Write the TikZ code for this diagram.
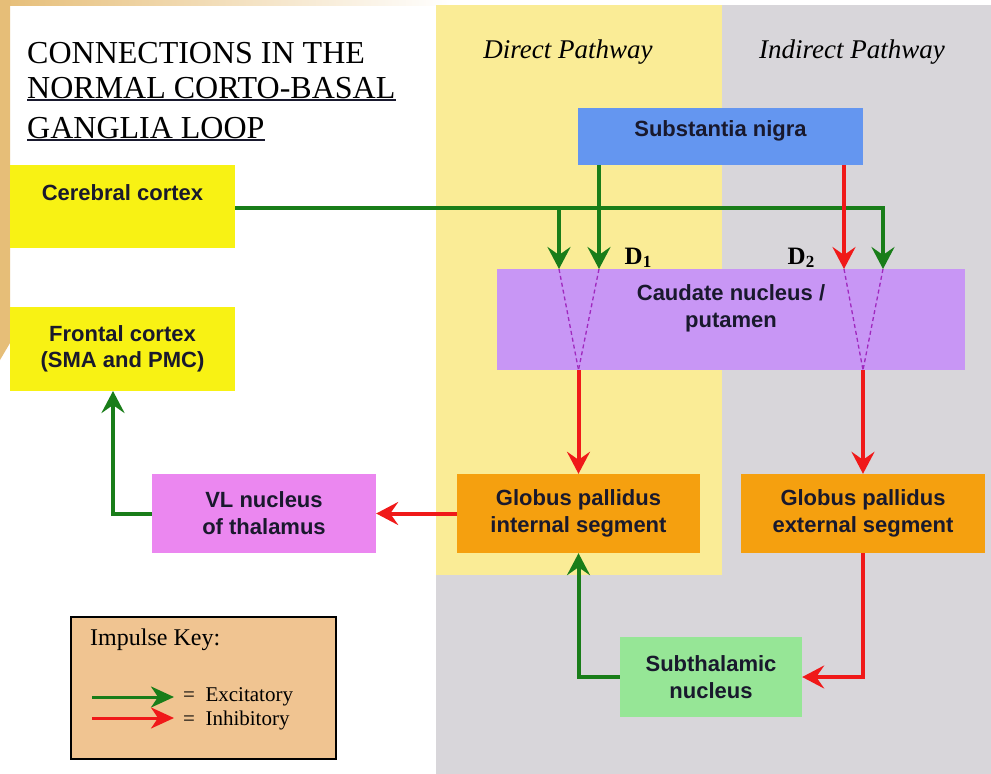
\documentclass[tikz,border=0pt]{standalone}
\usepackage{fontspec}
\setmainfont{Liberation Serif}
\newfontfamily\arialf{Liberation Sans}
\usetikzlibrary{arrows.meta,calc}
\definecolor{decotan}{RGB}{230,190,120}
\definecolor{colyel}{RGB}{250,236,150}
\definecolor{colgray}{RGB}{216,214,218}
\definecolor{cyel}{RGB}{248,242,20}
\definecolor{snblue}{RGB}{100,150,240}
\definecolor{caudp}{RGB}{200,150,245}
\definecolor{gporange}{RGB}{245,160,15}
\definecolor{vlpink}{RGB}{235,135,240}
\definecolor{stngreen}{RGB}{150,230,150}
\definecolor{keytan}{RGB}{240,196,145}
\definecolor{excgreen}{RGB}{25,125,25}
\definecolor{inhred}{RGB}{240,25,25}
\definecolor{dotmag}{RGB}{160,40,190}
\definecolor{txtc}{RGB}{25,25,45}
\begin{document}
\begin{tikzpicture}[x=1pt,y=-1pt,
  box/.style={rectangle, inner sep=0pt, align=center, text=txtc,
    font=\arialf\bfseries\fontsize{22}{27}\selectfont},
  exc/.style={draw=excgreen, line width=4pt,
    -{Stealth[length=22pt,width=23pt,inset=8pt]}},
  inh/.style={draw=inhred, line width=4pt,
    -{Stealth[length=22pt,width=23pt,inset=8pt]}},
  keyexc/.style={draw=excgreen, line width=3pt,
    -{Stealth[length=23pt,width=21pt,inset=7pt]}},
  keyinh/.style={draw=inhred, line width=3pt,
    -{Stealth[length=23pt,width=21pt,inset=7pt]}},
  dotln/.style={draw=dotmag, line width=1.3pt, dash pattern=on 4pt off 3pt},
  title/.style={anchor=base west, inner sep=0pt, font=\fontsize{32}{32}\selectfont},
  ital/.style={font=\itshape\fontsize{27}{27}\selectfont, inner sep=0pt},
  dlab/.style={font=\bfseries\fontsize{25}{25}\selectfont, inner sep=0pt},
  keytext/.style={anchor=west, inner sep=0pt, font=\fontsize{21}{21}\selectfont}
]
\useasboundingbox (0,0) rectangle (991,774);
\fill[white] (0,0) rectangle (991,774);
% decoration top-left
\shade[left color=decotan, right color=white] (0,0) rectangle (450,5);
\fill[decotan] (0,0) -- (10,0) -- (10,343) -- (0,360) -- cycle;
% pathway columns
\fill[colgray] (436,5) rectangle (991,774);
\fill[colyel] (436,5) rectangle (722,575);
\node[ital] (dp) at (568,52) {Direct Pathway};
\node[ital] (ip) at (852,52) {Indirect Pathway};
% title
\node[title] (t1) at (27,63) {CONNECTIONS IN THE};
\node[title] (t2) at (27,98) {NORMAL CORTO-BASAL};
\node[title] (t3) at (27,138) {GANGLIA LOOP};
\draw[line width=1.8pt, txtc] ($(t2.base west)+(0,2)$) -- ($(t2.base east)+(0,2)$);
\draw[line width=1.8pt, txtc] ($(t3.base west)+(0,2)$) -- ($(t3.base east)+(0,2)$);
% boxes
\node[box, fill=cyel, minimum width=225pt, minimum height=83pt] (cc) at (122.5,206.5) {Cerebral cortex\\\mbox{}};
\node[box, fill=cyel, minimum width=225pt, minimum height=84pt, font=\arialf\bfseries\fontsize{22}{26}\selectfont] (fc) at (122.5,349) {Frontal cortex\\(SMA and PMC)};
\node[box, fill=snblue, minimum width=285pt, minimum height=57pt, text height=16pt, text depth=16pt] (sn) at (720.5,136.5) {Substantia nigra};
\node[box, fill=caudp, minimum width=468pt, minimum height=101pt] (cau) at (731,319.5) {Caudate nucleus /\\putamen\\\mbox{}};
\node[box, fill=gporange, minimum width=243pt, minimum height=79pt] (gpi) at (578.5,513.5) {Globus pallidus\\internal segment};
\node[box, fill=gporange, minimum width=244pt, minimum height=79pt] (gpe) at (863,513.5) {Globus pallidus\\external segment};
\node[box, fill=vlpink, minimum width=224pt, minimum height=79pt] (vl) at (264,513.5) {VL nucleus\\of thalamus};
\node[box, fill=stngreen, minimum width=182pt, minimum height=80pt] (stn) at (711,677) {Subthalamic\\nucleus};
% D labels
\node[dlab] (d1) at (638,258) {D\raisebox{-3pt}{\fontsize{17}{17}\selectfont 1}};
\node[dlab] (d2) at (801,258) {D\raisebox{-3pt}{\fontsize{17}{17}\selectfont 2}};
% entry points on caudate
\coordinate (d1a) at (559,269);
\coordinate (d1b) at (599,269);
\coordinate (d2a) at (844,269);
\coordinate (d2b) at (883,269);
\coordinate (p1) at (578.5,370);
\coordinate (p2) at (863,370);
\coordinate (fcs) at (113,391);
% connectors
\draw[exc] (cc.east |- 0,208) -| (d2b);
\draw[exc] (d1a |- 0,208) -- (d1a);
\draw[exc] (sn.south -| d1b) -- (d1b);
\draw[inh] (sn.south -| d2a) -- (d2a);
\draw[dotln] (d1a) -- (p1);
\draw[dotln] (d1b) -- (p1);
\draw[dotln] (d2a) -- (p2);
\draw[dotln] (d2b) -- (p2);
\draw[inh] (p1) -- (gpi.north);
\draw[inh] (p2) -- (gpe.north);
\draw[inh] (gpi.west |- vl.east) -- (vl.east);
\draw[exc] (vl.west) -| (fcs);
\draw[exc] (stn.west) -| (gpi.south);
\draw[inh] (gpe.south) |- (stn.east);
% key
\node[draw=black, line width=1.5pt, fill=keytan, minimum width=265pt, minimum height=142pt, inner sep=0pt] (key) at (203.5,688) {};
\node[anchor=west, inner sep=0pt, font=\fontsize{24}{24}\selectfont] (kt) at (90,640) {Impulse Key:};
\coordinate (ke1) at (92,697);
\coordinate (ke2) at (174,697);
\coordinate (ki1) at (92,718);
\coordinate (ki2) at (174,718);
\draw[keyexc] (ke1) -- (ke2);
\draw[keyinh] (ki1) -- (ki2);
\node[keytext] (ket) at (183,697) {=\ \ Excitatory};
\node[keytext] (kit) at (183,720) {=\ \ Inhibitory};
\end{tikzpicture}
\end{document}
